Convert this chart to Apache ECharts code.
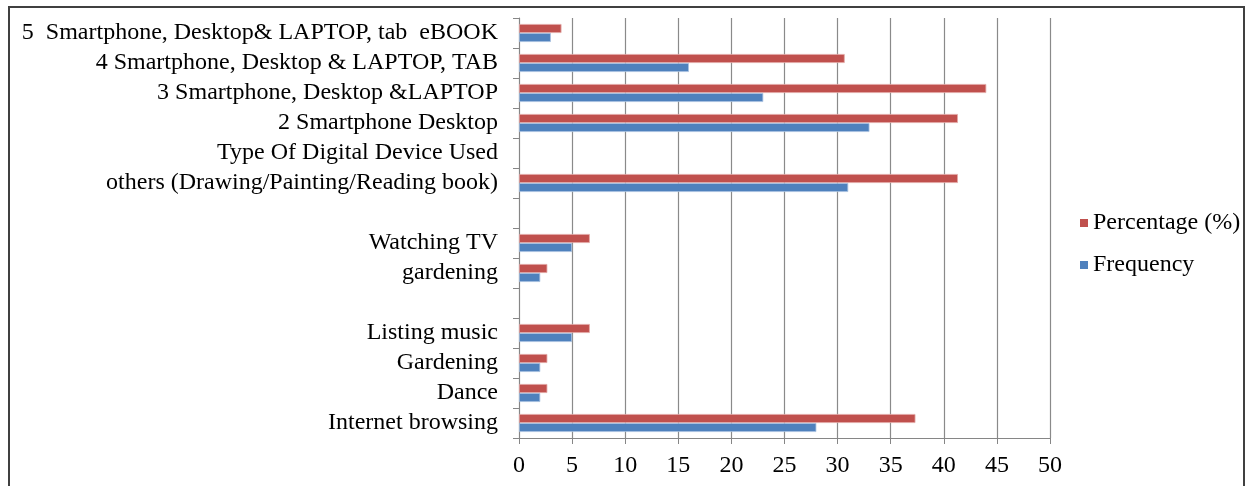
<!DOCTYPE html>
<html>
<head>
<meta charset="utf-8">
<style>
  html, body { margin: 0; padding: 0; background: #fff; }
  #chart { width: 1247px; height: 486px; }
</style>
<script src="https://cdn.jsdelivr.net/npm/echarts@6/dist/echarts.min.js"></script>
</head>
<body>
<div id="chart"></div>
<script>
// Categories listed bottom to top (category y-axis starts at the bottom)
const categories = [
  'Internet browsing',
  'Dance',
  'Gardening',
  'Listing music',
  ' ',
  'gardening',
  'Watching TV',
  '  ',
  'others (Drawing/Painting/Reading book)',
  'Type Of Digital Device Used',
  '2 Smartphone Desktop',
  '3 Smartphone, Desktop &LAPTOP',
  '4 Smartphone, Desktop & LAPTOP, TAB',
  '5  Smartphone, Desktop& LAPTOP, tab  eBOOK'
];
const frequency = [28, 2, 2, 5, null, 2, 5, null, 31, null, 33, 23, 16, 3];
const percentage = [37.33, 2.67, 2.67, 6.67, null, 2.67, 6.67, null, 41.33, null, 41.33, 44, 30.67, 4];
const xTicks = { min: 0, max: 50, interval: 5 };

const FONT = '"Liberation Serif", "Times New Roman", serif';
const FS = 24;
const chart = echarts.init(document.getElementById('chart'), null, { renderer: 'canvas' });

chart.setOption({
  animation: false,
  backgroundColor: '#ffffff',
  textStyle: { fontFamily: FONT, color: '#000' },
  grid: { left: 519, right: 197, top: 18, bottom: 48, containLabel: false },
  legend: {
    data: ['Percentage (%)', 'Frequency'],
    orient: 'vertical',
    left: 1075,
    top: 206,
    icon: 'rect',
    itemWidth: 8,
    itemHeight: 8,
    itemGap: 18,
    itemStyle: { borderWidth: 0 },
    textStyle: { fontFamily: FONT, fontSize: FS, color: '#000', padding: [0, 0, 0, 0] }
  },
  xAxis: {
    type: 'value',
    min: xTicks.min,
    max: xTicks.max,
    interval: xTicks.interval,
    axisLine: { show: true, lineStyle: { color: '#868686', width: 1 } },
    axisTick: { show: true, length: 6, lineStyle: { color: '#868686' } },
    axisLabel: { fontFamily: FONT, fontSize: FS, color: '#000', margin: 16 },
    splitLine: { show: true, lineStyle: { color: '#8a8a8a', width: 1.2 } }
  },
  yAxis: {
    type: 'category',
    data: categories,
    axisLine: { show: true, lineStyle: { color: '#868686', width: 1 } },
    axisTick: { show: true, interval: 0, length: 6, lineStyle: { color: '#868686' } },
    axisLabel: { interval: 0, fontFamily: FONT, fontSize: FS, color: '#000', margin: 21 },
    splitLine: { show: false }
  },
  series: [
    {
      name: 'Percentage (%)',
      type: 'bar',
      data: percentage,
      barWidth: 9,
      barGap: '0%',
      itemStyle: { color: '#C0504D', borderColor: '#e2a8a6', borderWidth: 0.8 }
    },
    {
      name: 'Frequency',
      type: 'bar',
      data: frequency,
      barWidth: 9,
      barGap: '0%',
      itemStyle: { color: '#4F81BD', borderColor: '#a9c1e0', borderWidth: 0.8 }
    }
  ],
  graphic: [
    {
      type: 'rect',
      shape: { x: 9, y: 7, width: 1235, height: 520 },
      style: { fill: null, stroke: '#404040', lineWidth: 2 },
      silent: true
    }
  ]
});
</script>
</body>
</html>
